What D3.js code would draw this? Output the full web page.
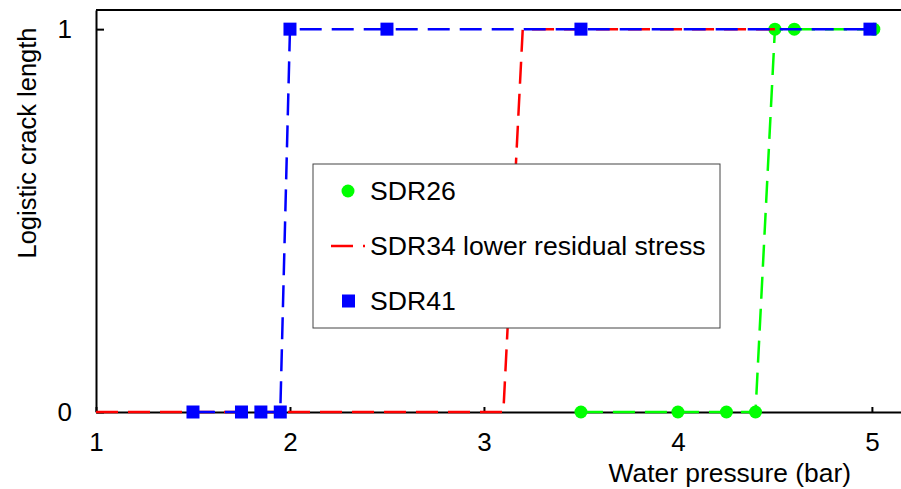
<!DOCTYPE html>
<html>
<head>
<meta charset="utf-8">
<script src="https://cdn.jsdelivr.net/npm/d3@7"></script>
<style>
  body { margin: 0; background: #fff; }
  svg { display: block; font-family: Arial, "Liberation Sans", sans-serif; }
  .axis path, .axis line { stroke: #000; stroke-width: 2; }
  .axis text { font-size: 26px; fill: #000; font-family: Arial, "Liberation Sans", sans-serif; }
</style>
</head>
<body>
<svg id="chart" width="901" height="489"></svg>
<script>
// data
var xTicks = [1, 2, 3, 4, 5];
var yTicks = [0, 1];

var sdr26X = [3.5, 4.0, 4.25, 4.4, 4.5, 4.6, 5.01];
var sdr26Y = [0, 0, 0, 0, 1, 1, 1];

var sdr34X = [1.0, 3.1, 3.2, 4.5];
var sdr34Y = [0, 0, 1, 1];

var sdr41X = [1.5, 1.75, 1.85, 1.95, 2.0, 2.5, 3.5, 4.99];
var sdr41Y = [0, 0, 0, 0, 1, 1, 1, 1];

var seriesNames = ["SDR26", "SDR34 lower residual stress", "SDR41"];

var svg = d3.select("#chart");

var xs = d3.scaleLinear().domain([1, 5.15]).range([96, 901]);
var ys = d3.scaleLinear().domain([0, 1.05]).range([412, 10]);

function zip(xv, yv) { return xv.map(function (v, i) { return [v, yv[i]]; }); }

var line = d3.line()
    .x(function (d) { return xs(d[0]); })
    .y(function (d) { return ys(d[1]); });

// top border
svg.append("line")
    .attr("x1", xs(1)).attr("x2", xs(5.15))
    .attr("y1", ys(1.05)).attr("y2", ys(1.05))
    .attr("stroke", "#000").attr("stroke-width", 2);

// X-axis
var x_axis = d3.axisBottom(xs)
    .tickValues(xTicks)
    .tickSizeInner(-5)
    .tickSizeOuter(0)
    .tickPadding(21)
    .tickFormat(d3.format("d"));

svg.append("g")
    .attr("class", "axis")
    .attr("transform", `translate(0,${ys(0)})`)
    .call(x_axis);

// Y-axis
var y_axis = d3.axisLeft(ys)
    .tickValues(yTicks)
    .tickSizeInner(-8)
    .tickSizeOuter(0)
    .tickPadding(24)
    .tickFormat(d3.format("d"));

svg.append("g")
    .attr("class", "axis")
    .attr("transform", `translate(${xs(1)},0)`)
    .call(y_axis);

// series, drawn in legend order
var series = [
    { name: seriesNames[0], pts: zip(sdr26X, sdr26Y), color: "#00ff00", marker: "circle" },
    { name: seriesNames[1], pts: zip(sdr34X, sdr34Y), color: "#ff0000", marker: null },
    { name: seriesNames[2], pts: zip(sdr41X, sdr41Y), color: "#0000ff", marker: "square" }
];

series.forEach(function (s) {
    var g = svg.append("g");
    g.append("path")
        .datum(s.pts)
        .attr("d", line)
        .attr("fill", "none")
        .attr("stroke", s.color)
        .attr("stroke-width", 2.5)
        .attr("stroke-dasharray", "22,10");

    if (s.marker == "circle") {
        g.selectAll("circle")
            .data(s.pts)
            .enter().append("circle")
            .attr("cx", function (d) { return xs(d[0]); })
            .attr("cy", function (d) { return ys(d[1]); })
            .attr("r", 6.5)
            .attr("fill", s.color);
    }
    if (s.marker == "square") {
        g.selectAll("rect")
            .data(s.pts)
            .enter().append("rect")
            .attr("x", function (d) { return xs(d[0]) - 6.5; })
            .attr("y", function (d) { return ys(d[1]) - 6.5; })
            .attr("width", 13)
            .attr("height", 13)
            .attr("fill", s.color);
    }
});

// axis titles
svg.append("text")
    .attr("x", 851)
    .attr("y", 482)
    .attr("text-anchor", "end")
    .style("font-size", "26.4px")
    .text("Water pressure (bar)");

svg.append("text")
    .attr("transform", "translate(36,143) rotate(-90)")
    .attr("text-anchor", "middle")
    .style("font-size", "25.5px")
    .text("Logistic crack length");

// legend
var legend = svg.append("g").attr("transform", "translate(313,164)");
legend.append("rect")
    .attr("width", 407).attr("height", 164)
    .attr("fill", "#fff")
    .attr("stroke", "#444")
    .attr("stroke-width", 1);

var rowY = [27, 82, 137];
series.forEach(function (s, i) {
    var row = legend.append("g").attr("transform", `translate(0,${rowY[i]})`);
    if (s.marker == "circle") {
        row.append("circle").attr("cx", 35).attr("cy", 0).attr("r", 6.5).attr("fill", s.color);
    } else if (s.marker == "square") {
        row.append("rect").attr("x", 29).attr("y", -6.5).attr("width", 13).attr("height", 13).attr("fill", s.color);
    } else {
        row.append("line")
            .attr("x1", 18).attr("x2", 52)
            .attr("y1", 0).attr("y2", 0)
            .attr("stroke", s.color)
            .attr("stroke-width", 2.5)
            .attr("stroke-dasharray", "22,10");
    }
    row.append("text")
        .attr("x", 57)
        .attr("y", 0)
        .attr("dy", "0.35em")
        .style("font-size", "26.6px")
        .text(s.name);
});
</script>
</body>
</html>
